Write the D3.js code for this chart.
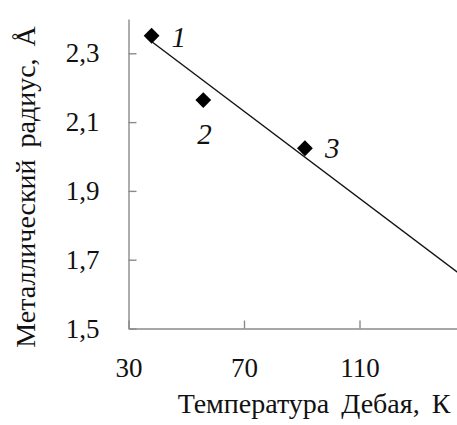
<!DOCTYPE html>
<html>
<head>
<meta charset="utf-8">
<script src="https://cdn.jsdelivr.net/npm/d3@7"></script>
<style>
  html, body { margin: 0; padding: 0; background: #fff; overflow: hidden; }
  svg { display: block; }
</style>
</head>
<body>
<script>
// ---- data ----
const debyeTemp = [38.0, 55.9, 91.1];          // K
const metalRadius = [2.351, 2.164, 2.024];     // Å
const pointLabels = ["1", "2", "3"];
const trendX = [38.2, 150];
const trendY = [2.333, 1.625];
const xTicks = [30, 70, 110, 150];
const xTickLabels = ["30", "70", "110", "150"];
const yTicks = [1.5, 1.7, 1.9, 2.1, 2.3];
const yTickLabels = ["1,5", "1,7", "1,9", "2,1", "2,3"];
const xTitle = "Температура Дебая, К";
const yTitle = "Металлический радиус, Å";

// ---- layout ----
const W = 500, H = 425;
const svg = d3.select("body").append("svg").attr("width", W).attr("height", H);
const font = "'Liberation Serif', 'Times New Roman', serif";

const x = d3.scaleLinear().domain([30, 150]).range([128.5, 475]);
const y = d3.scaleLinear().domain([1.5, 2.4]).range([328.5, 18.9]);

const axisColor = "#8a8a8a";

const yAxis = d3.axisLeft(y).tickValues(yTicks)
  .tickFormat((d, i) => yTickLabels[i]).tickSizeInner(-8).tickSizeOuter(0).tickPadding(29);
const gy = svg.append("g").attr("transform", `translate(${x.range()[0]},0)`).call(yAxis);

const xAxis = d3.axisBottom(x).tickValues(xTicks)
  .tickFormat((d, i) => xTickLabels[i]).tickSizeInner(-8).tickSizeOuter(0).tickPadding(29);
const gx = svg.append("g").attr("transform", `translate(0,${y.range()[0]})`).call(xAxis);

[gx, gy].forEach(g => {
  g.select(".domain").attr("stroke", axisColor).attr("stroke-width", 1.4);
  g.selectAll(".tick line").attr("stroke", axisColor).attr("stroke-width", 1.4);
  g.selectAll(".tick text").attr("fill", "#111").style("font-family", font).style("font-size", "27px");
});

// trend line
svg.append("path")
  .datum(trendX.map((d, i) => [d, trendY[i]]))
  .attr("d", d3.line().x(d => x(d[0])).y(d => y(d[1])))
  .attr("fill", "none").attr("stroke", "#111").attr("stroke-width", 1.4);

// points (diamonds)
const pts = debyeTemp.map((d, i) => ({ x: d, y: metalRadius[i], label: pointLabels[i] }));
svg.selectAll("path.pt").data(pts).enter().append("path")
  .attr("class", "pt")
  .attr("d", d3.symbol().type(d3.symbolSquare).size(125))
  .attr("transform", d => `translate(${x(d.x)},${y(d.y)}) rotate(45)`)
  .attr("fill", "#000");

// point labels
const labelOffsets = [[20, 11], [-6, 44], [20, 10]];
svg.selectAll("text.pl").data(pts).enter().append("text")
  .attr("class", "pl")
  .attr("x", (d, i) => x(d.x) + labelOffsets[i][0])
  .attr("y", (d, i) => y(d.y) + labelOffsets[i][1])
  .attr("fill", "#111")
  .style("font-family", font).style("font-size", "29px").style("font-style", "italic")
  .text(d => d.label);

// axis titles
svg.append("text")
  .attr("x", 314).attr("y", 413)
  .attr("text-anchor", "middle").attr("fill", "#111")
  .style("font-family", font).style("font-size", "28px")
  .style("word-spacing", "5px")
  .text(xTitle);

svg.append("text")
  .attr("transform", "translate(35,187) rotate(-90)")
  .attr("text-anchor", "middle").attr("fill", "#111")
  .style("font-family", font).style("font-size", "28px")
  .style("word-spacing", "5px")
  .text(yTitle);
</script>
</body>
</html>
